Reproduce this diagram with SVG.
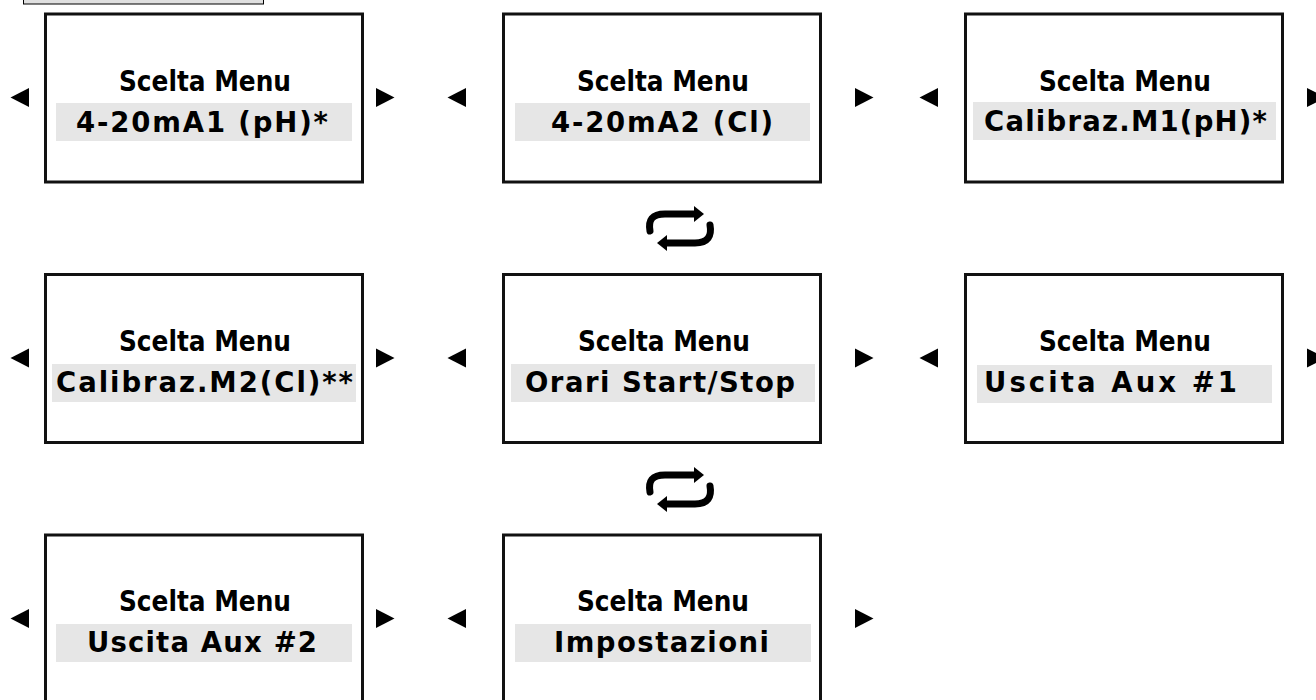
<svg xmlns="http://www.w3.org/2000/svg" width="1316" height="700" viewBox="0 0 1316 700">
<style>
.frame{fill:#fff;stroke:#111;stroke-width:3}
.band{fill:#e6e6e6}
.title{font-family:"DejaVu Sans Condensed","DejaVu Sans",Verdana,sans-serif;font-weight:bold;font-size:28px;fill:#000}
.sub{font-family:"DejaVu Sans",Verdana,sans-serif;font-weight:bold;font-size:27.5px;fill:#000}
.tri{fill:#000}
.cyc{fill:none;stroke:#000;stroke-width:7;stroke-linecap:round}
</style>
<defs>
<g id="cycle">
<path class="cyc" d="M650,231 C648,220 652,214 665,214 L696,214"/>
<polygon class="tri" points="694,206 704,214 694,222"/>
<path class="cyc" d="M710,225 C712,236 708,243 695,243 L665,243"/>
<polygon class="tri" points="667,235 657,243 667,251"/>
</g>
<polygon id="tl" points="10.5,0 29,-9.5 29,9.5"/>
<polygon id="tr" points="394.5,0 376,-9.5 376,9.5"/>
</defs>
<rect x="23.5" y="-10" width="240" height="14" fill="#e0e0e0" stroke="#000" stroke-width="1"/>

<g id="node-4-20mA1">
<rect class="frame" x="45.5" y="14" width="317" height="168"/>
<rect class="band" x="56" y="103" width="296" height="38"/>
<text class="title" x="119" y="91" textLength="172" lengthAdjust="spacingAndGlyphs">Scelta Menu</text>
<text class="sub" x="76" y="132" textLength="252" lengthAdjust="spacing">4-20mA1 (pH)*</text>
</g>
<g id="node-4-20mA2">
<rect class="frame" x="503.5" y="14" width="317" height="168"/>
<rect class="band" x="515" y="103" width="295" height="38"/>
<text class="title" x="577" y="91" textLength="172" lengthAdjust="spacingAndGlyphs">Scelta Menu</text>
<text class="sub" x="551" y="132" textLength="222" lengthAdjust="spacing">4-20mA2 (Cl)</text>
</g>
<g id="node-calibraz-m1">
<rect class="frame" x="965.5" y="14" width="317" height="168"/>
<rect class="band" x="973" y="102" width="303" height="38"/>
<text class="title" x="1039" y="91" textLength="172" lengthAdjust="spacingAndGlyphs">Scelta Menu</text>
<text class="sub" x="984" y="131" textLength="283" lengthAdjust="spacing">Calibraz.M1(pH)*</text>
</g>

<g id="node-calibraz-m2">
<rect class="frame" x="45.5" y="274.5" width="317" height="168"/>
<rect class="band" x="52" y="364" width="304" height="38"/>
<text class="title" x="119" y="351" textLength="172" lengthAdjust="spacingAndGlyphs">Scelta Menu</text>
<text class="sub" x="56" y="392" textLength="297" lengthAdjust="spacing">Calibraz.M2(Cl)**</text>
</g>
<g id="node-orari">
<rect class="frame" x="503.5" y="274.5" width="317" height="168"/>
<rect class="band" x="511" y="364" width="304" height="38"/>
<text class="title" x="578" y="351" textLength="172" lengthAdjust="spacingAndGlyphs">Scelta Menu</text>
<text class="sub" x="525" y="392" textLength="270" lengthAdjust="spacing">Orari Start/Stop</text>
</g>
<g id="node-uscita-aux1">
<rect class="frame" x="965.5" y="274.5" width="317" height="168"/>
<rect class="band" x="977" y="365" width="295" height="38"/>
<text class="title" x="1039" y="351" textLength="172" lengthAdjust="spacingAndGlyphs">Scelta Menu</text>
<text class="sub" x="984" y="392" textLength="253" lengthAdjust="spacing">Uscita Aux #1</text>
</g>

<g id="node-uscita-aux2">
<rect class="frame" x="45.5" y="535" width="317" height="168"/>
<rect class="band" x="56" y="624" width="296" height="38"/>
<text class="title" x="119" y="611" textLength="172" lengthAdjust="spacingAndGlyphs">Scelta Menu</text>
<text class="sub" x="87" y="652" textLength="230" lengthAdjust="spacing">Uscita Aux #2</text>
</g>
<g id="node-impostazioni">
<rect class="frame" x="503.5" y="535" width="317" height="168"/>
<rect class="band" x="515" y="624" width="296" height="38"/>
<text class="title" x="577" y="611" textLength="172" lengthAdjust="spacingAndGlyphs">Scelta Menu</text>
<text class="sub" x="554" y="652" textLength="215" lengthAdjust="spacing">Impostazioni</text>
</g>

<g id="connectors" class="tri">
<use href="#tl" x="0" y="97.5"/>
<use href="#tr" x="0" y="97.5"/>
<use href="#tl" x="437" y="97.5"/>
<use href="#tr" x="479" y="97.5"/>
<use href="#tl" x="909" y="97.5"/>
<use href="#tr" x="931" y="97.5"/>
<use href="#tl" x="0" y="358"/>
<use href="#tr" x="0" y="358"/>
<use href="#tl" x="437" y="358"/>
<use href="#tr" x="479" y="358"/>
<use href="#tl" x="909" y="358"/>
<use href="#tr" x="931" y="358"/>
<use href="#tl" x="0" y="618.5"/>
<use href="#tr" x="0" y="618.5"/>
<use href="#tl" x="437" y="618.5"/>
<use href="#tr" x="479" y="618.5"/>
<use href="#cycle" x="0" y="0"/>
<use href="#cycle" x="0" y="261"/>
</g>
</svg>
